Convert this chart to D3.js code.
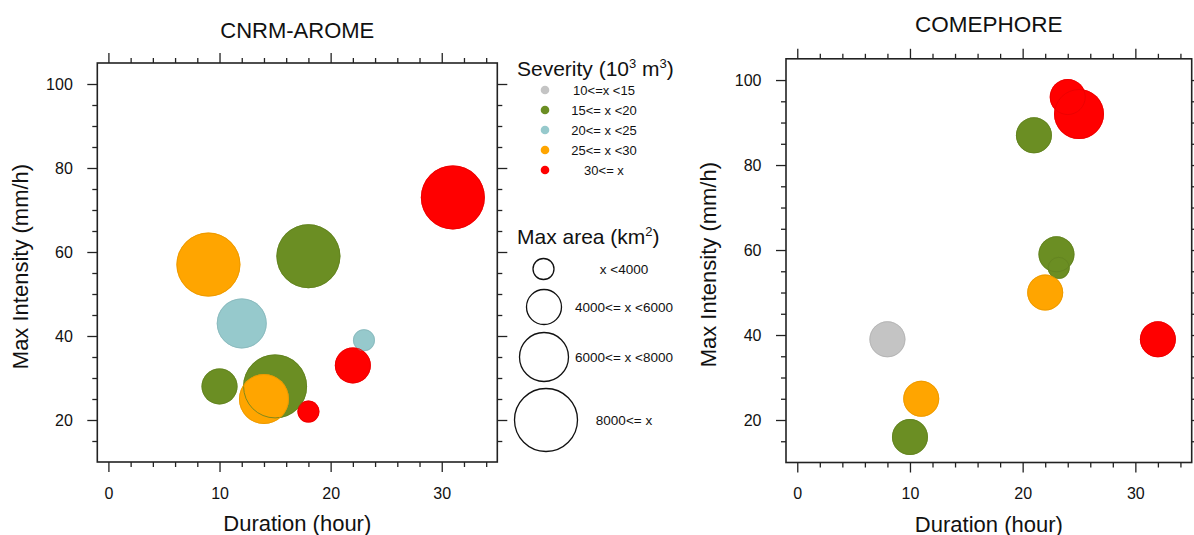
<!DOCTYPE html>
<html>
<head>
<meta charset="utf-8">
<script src="https://cdn.jsdelivr.net/npm/d3@7"></script>
<style>
  html, body { margin: 0; padding: 0; background: #fff; }
  svg { display: block; font-family: "Liberation Sans", Arial, Helvetica, sans-serif; }
</style>
</head>
<body>
<svg id="chart" width="1194" height="535"></svg>
<script>
// ---------------- data ----------------
const xMajorTicks = [0, 10, 20, 30];
const xMinorTicks = [2, 4, 6, 8, 12, 14, 16, 18, 22, 24, 26, 28, 32, 34];
const yMajorTicks = [20, 40, 60, 80, 100];
const yMinorTicks = [15, 25, 30, 35, 45, 50, 55, 65, 70, 75, 85, 90, 95];

const severityLabels = ["10<=x <15", "15<= x <20", "20<= x <25", "25<= x <30", "30<= x"];
const severityColors = ["#c4c4c4", "#6b8e23", "#96c9cc", "#ffa500", "#ff0000"];
const areaLabels = ["x <4000", "4000<= x <6000", "6000<= x <8000", "8000<= x"];

// CNRM-AROME
const aromeDuration  = [9, 18, 31, 12, 23, 22, 10, 15, 14, 18];
const aromeIntensity = [57, 59, 73, 43, 39, 33, 28, 28, 25, 22];
const aromeSeverity  = [3, 1, 4, 2, 2, 4, 1, 1, 3, 4];
const aromeArea      = [3, 3, 3, 2, 0, 1, 1, 3, 2, 0];

// COMEPHORE
const comeDuration  = [24, 25, 21, 23, 23.2, 22, 8, 11, 10, 32];
const comeIntensity = [96, 92, 87, 59, 55.8, 50, 39, 25, 16, 39];
const comeSeverity  = [4, 4, 1, 1, 1, 3, 0, 3, 1, 4];
const comeArea      = [1, 2, 1, 1, 0, 1, 1, 1, 1, 1];

// ---------------- drawing ----------------
const svg = d3.select("#chart");
const FONT = '"Liberation Sans", Arial, Helvetica, sans-serif';
const radius = d3.scaleOrdinal().domain([0, 1, 2, 3]).range([11, 18, 25, 32]);
const color = d3.scaleOrdinal().domain([0, 1, 2, 3, 4]).range(severityColors);

function panel(cfg) {
  const x = d3.scaleLinear().domain([-1, 35]).range([cfg.left, cfg.right]);
  const y = d3.scaleLinear().domain([10, 105]).range([cfg.bottom, cfg.top]);
  const g = svg.append("g");

  const pts = cfg.dur.map((d, i) => ({ d, v: cfg.inten[i], s: cfg.sev[i], a: cfg.area[i] }));

  // bubbles: fills first, then thin same-colour outlines on top
  g.append("g").selectAll("circle").data(pts).join("circle")
    .attr("cx", p => x(p.d)).attr("cy", p => y(p.v)).attr("r", p => radius(p.a))
    .attr("fill", p => color(p.s));
  g.append("g").selectAll("circle").data(pts).join("circle")
    .attr("cx", p => x(p.d)).attr("cy", p => y(p.v)).attr("r", p => radius(p.a) - 0.5)
    .attr("fill", "none")
    .attr("stroke", p => d3.color(color(p.s)).darker(0.25))
    .attr("stroke-opacity", 0.8)
    .attr("stroke-width", 1);

  function styleAxis(sel, labels) {
    sel.select(".domain").remove();
    sel.selectAll(".tick line").attr("stroke", "#222").attr("stroke-width", 1.3);
    if (labels) sel.selectAll(".tick text").attr("fill", "#111").attr("font-size", 16).attr("font-family", FONT);
    else sel.selectAll(".tick text").remove();
  }

  // bottom
  g.append("g").attr("transform", `translate(0,${cfg.bottom})`)
    .call(d3.axisBottom(x).tickValues(xMajorTicks).tickSize(10).tickPadding(15.5).tickFormat(d3.format("d")))
    .call(s => styleAxis(s, true));
  g.append("g").attr("transform", `translate(0,${cfg.bottom})`)
    .call(d3.axisBottom(x).tickValues(xMinorTicks).tickSize(5)).call(s => styleAxis(s, false));
  // top
  g.append("g").attr("transform", `translate(0,${cfg.top})`)
    .call(d3.axisTop(x).tickValues(xMajorTicks).tickSize(10)).call(s => styleAxis(s, false));
  g.append("g").attr("transform", `translate(0,${cfg.top})`)
    .call(d3.axisTop(x).tickValues(xMinorTicks).tickSize(5)).call(s => styleAxis(s, false));
  // left
  g.append("g").attr("transform", `translate(${cfg.left},0)`)
    .call(d3.axisLeft(y).tickValues(yMajorTicks).tickSize(10).tickPadding(14.5).tickFormat(d3.format("d")))
    .call(s => styleAxis(s, true));
  g.append("g").attr("transform", `translate(${cfg.left},0)`)
    .call(d3.axisLeft(y).tickValues(yMinorTicks).tickSize(5)).call(s => styleAxis(s, false));
  // right
  g.append("g").attr("transform", `translate(${cfg.right},0)`)
    .call(d3.axisRight(y).tickValues(yMajorTicks).tickSize(10)).call(s => styleAxis(s, false));
  g.append("g").attr("transform", `translate(${cfg.right},0)`)
    .call(d3.axisRight(y).tickValues(yMinorTicks).tickSize(5)).call(s => styleAxis(s, false));

  // frame
  g.append("rect")
    .attr("x", cfg.left).attr("y", cfg.top)
    .attr("width", cfg.right - cfg.left).attr("height", cfg.bottom - cfg.top)
    .attr("fill", "none").attr("stroke", "#222").attr("stroke-width", 1.6);

  const cx = (cfg.left + cfg.right) / 2;
  g.append("text").attr("x", cx).attr("y", cfg.titleY).attr("text-anchor", "middle")
    .attr("font-size", cfg.titleSize).attr("fill", "#111").text(cfg.title);
  g.append("text").attr("x", cx).attr("y", cfg.xlabY).attr("text-anchor", "middle")
    .attr("font-size", 22).attr("fill", "#111").text("Duration (hour)");
  g.append("text")
    .attr("transform", `translate(${cfg.ylabX},${(cfg.top + cfg.bottom) / 2 + 4}) rotate(-90)`)
    .attr("text-anchor", "middle").attr("font-size", 22).attr("fill", "#111")
    .text("Max Intensity (mm/h)");
}

panel({ left: 97.3, right: 497.3, top: 63, bottom: 462, dur: aromeDuration, inten: aromeIntensity,
        sev: aromeSeverity, area: aromeArea, title: "CNRM-AROME", titleY: 37.5, titleSize: 22,
        xlabY: 530.5, ylabX: 28 });
panel({ left: 786, right: 1191.7, top: 58.8, bottom: 462.5, dur: comeDuration, inten: comeIntensity,
        sev: comeSeverity, area: comeArea, title: "COMEPHORE", titleY: 31.7, titleSize: 22.5,
        xlabY: 531.5, ylabX: 716 });

// ---------------- legends ----------------
const leg = svg.append("g").attr("font-family", FONT).attr("fill", "#111");
const sevTitle = leg.append("text").attr("x", 517).attr("y", 76).attr("font-size", 21);
sevTitle.append("tspan").text("Severity (10");
sevTitle.append("tspan").attr("font-size", 13).attr("dy", -8).text("3");
sevTitle.append("tspan").attr("dy", 8).text(" m");
sevTitle.append("tspan").attr("font-size", 13).attr("dy", -8).text("3");
sevTitle.append("tspan").attr("dy", 8).text(")");

const sevY = d3.scalePoint().domain(d3.range(severityLabels.length)).range([90, 170]);
leg.append("g").selectAll("circle").data(severityLabels).join("circle")
  .attr("cx", 545).attr("cy", (d, i) => sevY(i)).attr("r", 4.3)
  .attr("fill", (d, i) => color(i));
leg.append("g").selectAll("text").data(severityLabels).join("text")
  .attr("x", 604).attr("y", (d, i) => sevY(i) + 4.6).attr("text-anchor", "middle")
  .attr("font-size", 13).text(d => d);

const areaTitle = leg.append("text").attr("x", 517).attr("y", 244).attr("font-size", 21);
areaTitle.append("tspan").text("Max area (km");
areaTitle.append("tspan").attr("font-size", 13).attr("dy", -8).text("2");
areaTitle.append("tspan").attr("dy", 8).text(")");

const areaY = d3.scaleOrdinal().domain([0, 1, 2, 3]).range([269, 307, 357, 420]);
const areaX = d3.scaleOrdinal().domain([0, 1, 2, 3]).range([543.5, 544, 544, 546]);
leg.append("g").selectAll("circle").data(areaLabels).join("circle")
  .attr("cx", (d, i) => areaX(i)).attr("cy", (d, i) => areaY(i)).attr("r", (d, i) => radius(i) - 0.5)
  .attr("fill", "none").attr("stroke", "#111").attr("stroke-width", 1.3);
leg.append("g").selectAll("text").data(areaLabels).join("text")
  .attr("x", 624).attr("y", (d, i) => areaY(i) + 4.8).attr("text-anchor", "middle")
  .attr("font-size", 13.5).text(d => d);
</script>
</body>
</html>
